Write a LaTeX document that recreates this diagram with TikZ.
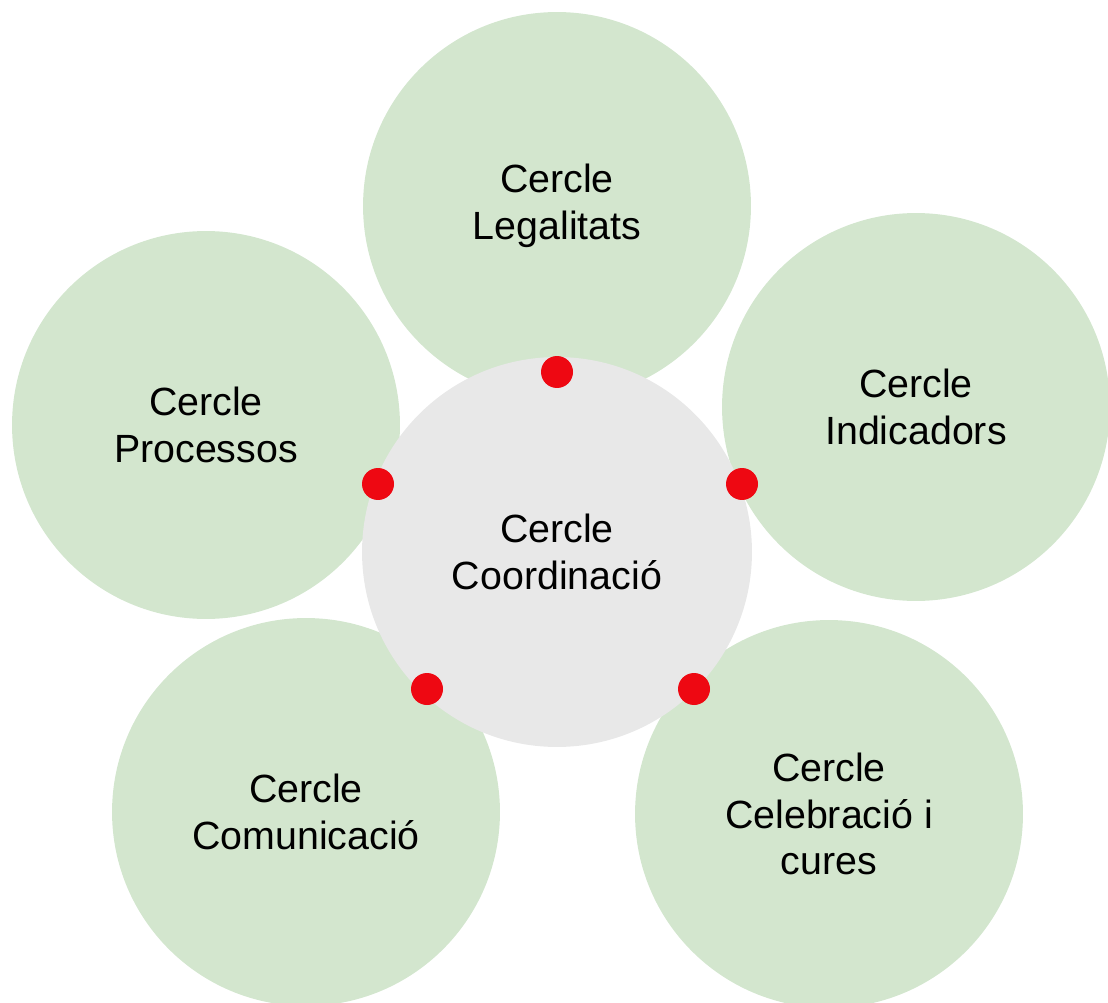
\documentclass[tikz,border=0pt]{standalone}
\usepackage{fontspec}
\setmainfont{Liberation Sans}
\definecolor{verd}{RGB}{211,230,206}
\definecolor{gris}{RGB}{232,232,232}
\definecolor{punt}{RGB}{238,8,18}

\begin{document}
\begin{tikzpicture}[x = 0.02cm, y = -0.02cm,
	cercle/.style = {circle, fill = verd, minimum size = 7.76cm, inner sep = 0pt, align = center, font = \fontsize{22.4}{26.6}\selectfont},
	nucli/.style = {cercle, fill = gris, minimum size = 7.8cm},
	punt/.style = {circle, fill = punt, minimum size = .64cm, inner sep = 0pt}]
			\useasboundingbox (0,0) rectangle (1108,1003);
			\node[cercle] (legal) at (557,206) {Cercle\\Legalitats};
			\node[cercle] (proces) at (206,425) {Cercle\\Processos};
			\node[cercle] (indic) at (916,407) {Cercle\\Indicadors};
			\node[cercle] (comun) at (306,812) {Cercle\\Comunicació};
			\node[cercle] (celeb) at (829,814) {Cercle\\Celebració i\\cures};
			\node[nucli] (coord) at (557,552) {Cercle\\Coordinació};
			\node[punt] (p1) at (557,372) {};
			\node[punt] (p2) at (378,484) {};
			\node[punt] (p3) at (742,484) {};
			\node[punt] (p4) at (427,689) {};
			\node[punt] (p5) at (694,689) {};
			\end{tikzpicture}
\end{document}
